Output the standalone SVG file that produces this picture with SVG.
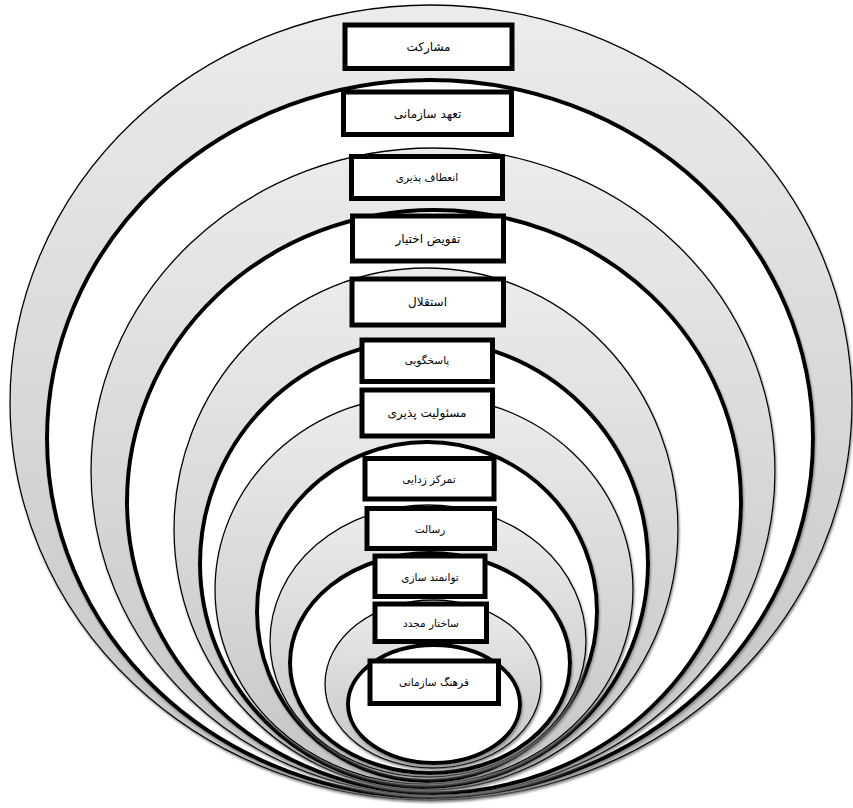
<svg xmlns="http://www.w3.org/2000/svg" width="853" height="808" viewBox="0 0 853 808">
<defs>
<linearGradient id="g" x1="0" y1="0" x2="0" y2="1">
<stop offset="0" stop-color="#ececec"/>
<stop offset="1" stop-color="#c4c4c4"/>
</linearGradient>
<filter id="sh" x="-5%" y="-5%" width="110%" height="112%">
<feDropShadow dx="1" dy="2" stdDeviation="1" flood-color="#7a7a7a" flood-opacity="0.8"/>
</filter>
<style>
.gr{fill:url(#g);stroke:#000;stroke-width:1.3;filter:url(#sh)}
.wh{fill:#fff;stroke:#000;stroke-width:4;filter:url(#sh)}
.box{fill:#fff;stroke:#000;stroke-width:5}
.lb{font-family:"DejaVu Sans","Noto Sans",sans-serif;font-size:12px;fill:#000;text-anchor:middle}
.sm{font-size:10.5px}
</style>
</defs>
<rect width="853" height="808" fill="#fff"/>
<g id="rings">
<ellipse id="ring-1" class="gr" cx="431" cy="402.5" rx="421" ry="397.5"/>
<ellipse id="ring-2" class="wh" cx="430" cy="438.5" rx="383" ry="358.5"/>
<ellipse id="ring-3" class="gr" cx="433" cy="471.5" rx="342" ry="323.5"/>
<ellipse id="ring-4" class="wh" cx="434" cy="501.5" rx="307" ry="291.5"/>
<ellipse id="ring-5" class="gr" cx="426" cy="529" rx="252" ry="261"/>
<ellipse id="ring-6" class="wh" cx="424" cy="563.5" rx="224" ry="223.5"/>
<ellipse id="ring-7" class="gr" cx="424" cy="589.5" rx="209" ry="194.5"/>
<ellipse id="ring-8" class="wh" cx="427" cy="611.5" rx="170" ry="169.5"/>
<ellipse id="ring-9" class="gr" cx="428" cy="641" rx="158" ry="136"/>
<ellipse id="ring-10" class="wh" cx="430" cy="663" rx="140" ry="110"/>
<ellipse id="ring-11" class="gr" cx="433" cy="684" rx="108" ry="84"/>
<ellipse id="ring-12" class="wh" cx="434" cy="704" rx="86" ry="59"/>
</g>
<g id="node-1"><rect class="box" x="345" y="25" width="167" height="43.5"/><text class="lb" x="428.5" y="51">مشارکت</text></g>
<g id="node-2"><rect class="box" x="343.5" y="92" width="168" height="42.5"/><text class="lb" x="427.5" y="118">تعهد سازمانی</text></g>
<g id="node-3"><rect class="box" x="351.5" y="156.5" width="151" height="42"/><text class="lb sm" x="427" y="181">انعطاف پذیری</text></g>
<g id="node-4"><rect class="box" x="352.5" y="216" width="151" height="45"/><text class="lb" x="428" y="243">تفویض اختیار</text></g>
<g id="node-5"><rect class="box" x="352" y="279" width="151.5" height="46"/><text class="lb" x="427.5" y="306">استقلال</text></g>
<g id="node-6"><rect class="box" x="362" y="340" width="130.5" height="41.5"/><text class="lb sm" x="427" y="364">پاسخگویی</text></g>
<g id="node-7"><rect class="box" x="362" y="390" width="130.5" height="46"/><text class="lb" x="427" y="417">مسئولیت پذیری</text></g>
<g id="node-8"><rect class="box" x="365" y="458.5" width="129" height="40.5"/><text class="lb sm" x="429" y="483">تمرکز زدایی</text></g>
<g id="node-9"><rect class="box" x="367" y="508.5" width="127.5" height="40"/><text class="lb sm" x="430" y="533">رسالت</text></g>
<g id="node-10"><rect class="box" x="375" y="556" width="110" height="40.5"/><text class="lb sm" x="430" y="581">توانمند سازی</text></g>
<g id="node-11"><rect class="box" x="375" y="604" width="111.5" height="37.5"/><text class="lb sm" x="431" y="627">ساختار مجدد</text></g>
<g id="node-12"><rect class="box" x="370" y="661" width="128.5" height="42.5"/><text class="lb sm" x="434" y="686">فرهنگ سازمانی</text></g>
</svg>
